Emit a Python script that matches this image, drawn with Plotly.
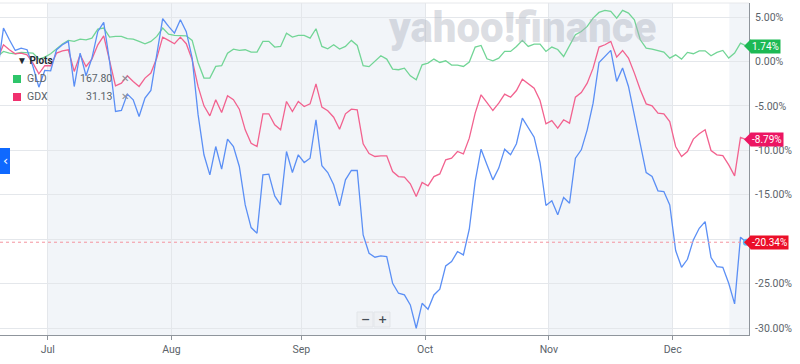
import pandas as pd
import plotly.graph_objects as go

# ---- data (percent change), trading days 2021-06-18 .. 2021-12-17 ----
holidays = ["2021-07-05", "2021-09-06", "2021-11-25"]
dates = [d for d in pd.bdate_range("2021-06-18", "2021-12-17") if d.strftime("%Y-%m-%d") not in holidays]

main_pct = [-1.0, 3.76, 2.44, 1.24, 1.50, 1.32, -0.56, -2.89, -1.01, -1.05,
            1.32, 1.88, 2.26, -2.82, 0.94, -1.61, 0.38, 3.38, 4.40, 0.0,
            -5.63, -5.51, -3.67, -4.31, -6.19, -4.13, -3.26, 0.94, 4.81, 3.95,
            3.19, 4.70, 3.35, 0.38, -5.96, -10.5, -12.76, -9.57, -12.12, -8.74,
            -9.57, -11.82, -16.14, -18.69, -19.33, -12.76, -12.68, -15.13, -16.14, -10.13,
            -12.5, -10.5, -11.37, -10.88, -6.56, -11.74, -12.5, -13.88, -16.25, -13.32,
            -12.27, -12.27, -19.52, -21.58, -22.03, -21.88, -21.95, -24.96, -26.08, -26.27,
            -27.4, -30.02, -27.21, -27.88, -26.27, -25.63, -23.0, -22.52, -21.39, -21.77,
            -18.88, -13.5, -9.87, -11.63, -13.32, -12.0, -9.87, -10.5, -9.26, -6.38,
            -7.5, -8.52, -11.37, -16.21, -15.68, -17.26, -15.31, -15.95, -10.88, -9.94,
            -7.69, -4.69, -0.11, 0.57, 1.25, -2.24, -0.74, -2.81, -6.0, -9.57,
            -12.5, -12.95, -14.56, -14.64, -16.14, -21.28, -23.16, -22.26, -20.08, -18.77,
            -18.02, -22.07, -23.08, -23.16, -24.96, -27.28, -19.77, -20.34]

gdx_pct = [0.3, 1.88, 1.32, 0.87, 0.94, 0.75, -0.18, -1.39, -0.48, -0.48,
           0.94, 1.2, 1.32, -1.12, 0.75, -0.56, 0.27, 1.88, 2.89, 0.0,
           -2.74, -2.44, -1.61, -2.25, -2.81, -1.87, -1.31, 0.38, 2.74, 2.37,
           1.99, 2.74, 2.0, 0.19, -2.81, -4.99, -6.12, -4.31, -5.74, -3.86,
           -4.31, -5.37, -7.69, -9.2, -9.57, -5.89, -5.89, -7.13, -7.69, -4.5,
           -5.63, -4.5, -5.07, -4.77, -2.52, -5.14, -5.55, -6.27, -7.62, -5.89,
           -5.37, -5.44, -9.26, -10.36, -10.69, -10.62, -10.62, -12.38, -12.95, -13.02,
           -13.77, -15.2, -13.62, -13.99, -12.95, -12.65, -11.07, -10.88, -10.13, -10.4,
           -8.63, -5.81, -3.75, -4.62, -5.52, -4.69, -3.68, -4.02, -3.27, -1.99,
           -2.52, -3.0, -4.39, -7.02, -6.65, -7.5, -6.56, -6.94, -4.02, -3.49,
           -2.44, -0.75, 1.62, 1.88, 2.26, 0.49, 1.24, 0.38, -1.31, -3.19,
           -4.77, -4.99, -5.82, -5.89, -6.76, -9.57, -10.7, -10.13, -8.74, -8.14,
           -7.69, -10.02, -10.51, -10.59, -11.64, -12.88, -8.53, -8.79]

gld_pct = [0.57, 1.13, 0.94, 0.87, 1.02, 1.02, 0.94, 0.27, 0.49, 0.87,
           1.39, 1.96, 2.37, 2.26, 2.52, 2.44, 2.63, 3.64, 3.76, 2.74,
           2.82, 2.82, 2.56, 2.52, 2.26, 1.99, 2.26, 2.82, 3.76, 3.08,
           2.93, 2.93, 2.89, 2.37, -0.11, -1.87, -1.87, -0.56, -0.48, 0.94,
           1.39, 1.24, 1.32, 1.05, 1.05, 2.26, 2.26, 1.62, 1.69, 3.19,
           2.74, 2.93, 2.93, 2.63, 3.68, 1.69, 1.43, 1.88, 1.39, 1.69,
           2.37, 1.8, -0.48, -0.58, 0.0, 0.64, 0.27, -0.86, -0.93, -0.75,
           -1.61, -2.06, -0.37, -0.18, 0.27, -0.11, 0.08, -0.41, -0.41, -0.56,
           -0.07, 1.62, 1.8, 0.3, 0.08, 0.38, 1.13, 1.13, 1.69, 2.37,
           1.69, 1.95, 1.95, 1.13, 1.62, 1.35, 0.56, 1.76, 3.0, 3.38,
           3.95, 4.88, 5.52, 5.75, 5.63, 4.88, 5.75, 5.45, 4.7, 2.44,
           1.5, 1.39, 1.24, 1.05, 0.38, 0.75, 0.27, 1.02, 0.87, 1.2,
           1.2, 0.64, 1.02, 1.24, 0.38, 0.94, 2.07, 1.74]

legend_names = ["GLD", "GDX"]
legend_prices = ["167.80", "31.13"]
y_ticks = [5, 0, -5, -10, -15, -20, -25, -30]
y_ticklabels = ["5.00%", "0.00%", "-5.00%", "-10.00%", "-15.00%", "", "-25.00%", "-30.00%"]
month_labels = ["Jul", "Aug", "Sep", "Oct", "Nov", "Dec"]
shade_months = [("2021-07-01", "2021-10-01"), ("2021-11-01", "2021-12-01"), ("2021-12-14", None)]

# ---- geometry helpers ----
W, H = 800, 364
ML, MR, MT, MB = 0, 51, 3, 29
PW, PH = W - ML - MR, H - MT - MB
def px(x):
    return (x - ML) / PW
def py(y):
    return 1 - (y - MT) / PH

idx = list(range(len(dates)))
dstr = [d.strftime("%Y-%m-%d") for d in dates]
def pos(ds):
    return dstr.index(ds) - 0.5

month_pos = [pos(m) for m in ["2021-07-01", "2021-08-02", "2021-09-01", "2021-10-01", "2021-11-01", "2021-12-01"]]

GREEN_L, PINK_L, BLUE_L = "#72d596", "#f2628f", "#5b8ff5"
GRID = "#e4e7eb"
TXT = "#5b636a"

fig = go.Figure()
fig.add_trace(go.Scatter(x=idx, y=gld_pct, mode="lines", line=dict(color=GREEN_L, width=1.3), hoverinfo="skip"))
fig.add_trace(go.Scatter(x=idx, y=gdx_pct, mode="lines", line=dict(color=PINK_L, width=1.3), hoverinfo="skip"))
fig.add_trace(go.Scatter(x=idx, y=main_pct, mode="lines", line=dict(color=BLUE_L, width=1.3), hoverinfo="skip"))
fig.add_trace(go.Scatter(x=[idx[-1]], y=[main_pct[-1]], mode="markers",
                         marker=dict(color="#56b8f5", size=7), hoverinfo="skip", cliponaxis=False))

shapes = []
x_end = 127.44
for a, b in shade_months:
    x0 = pos(a)
    x1 = pos(b) if b else x_end
    if a == "2021-12-14":
        x0 = pos(a) + 0.6
    shapes.append(dict(type="rect", xref="x", yref="paper", x0=x0, x1=x1, y0=0, y1=1,
                       fillcolor="#f2f5f9", line=dict(width=0), layer="below"))
shapes.append(dict(type="line", xref="paper", yref="paper", x0=0, x1=1, y0=1, y1=1,
                   line=dict(color="#e6e8eb", width=1)))
shapes.append(dict(type="line", xref="paper", yref="y", x0=0, x1=1, y0=main_pct[-1], y1=main_pct[-1],
                   line=dict(color="#f4939e", width=1, dash="3px,3px")))

annotations = []
unit = (6.58 + 30.78) / PH
for val, col in [(gld_pct[-1], "#1db954"), (gdx_pct[-1], "#ec1562"), (main_pct[-1], "#eb0f29")]:
    h = 7 * unit
    shapes.append(dict(type="path", xref="paper", yref="y",
                       path=f"M {px(744)},{val} L {px(751)},{val + h} L {px(751)},{val - h} Z",
                       fillcolor=col, line=dict(width=0)))
    annotations.append(dict(xref="paper", yref="y", x=px(750), y=val, xanchor="left", yanchor="middle",
                            text=f"{val:.2f}%", showarrow=False, bgcolor=col, borderpad=1,
                            font=dict(color="white", size=10, family="Roboto")))

annotations.append(dict(xref="paper", yref="paper", x=px(522), y=py(1), xanchor="center", yanchor="top",
                        text="yahoo!finance", showarrow=False,
                        font=dict(family="Roboto", size=42, weight=900, color="rgba(170,176,188,0.42)")))

annotations.append(dict(xref="paper", yref="paper", x=px(15), y=py(61), xanchor="left", yanchor="middle",
                        text="<b>▼ Plots</b>", showarrow=False, font=dict(family="Roboto", size=10, color="#232a31")))
for k, (nm, pr, col) in enumerate(zip(legend_names, legend_prices, ["#2ec56a", "#f0306e"])):
    yc = 79 + 18 * k
    shapes.append(dict(type="rect", xref="paper", yref="paper", x0=px(13), x1=px(21), y0=py(yc - 4), y1=py(yc + 4),
                       fillcolor=col, line=dict(width=0)))
    annotations.append(dict(xref="paper", yref="paper", x=px(25), y=py(yc), xanchor="left", yanchor="middle",
                            text=nm, showarrow=False, font=dict(family="Roboto", size=10.5, color=TXT)))
    annotations.append(dict(xref="paper", yref="paper", x=px(114), y=py(yc), xanchor="right", yanchor="middle",
                            text=pr, showarrow=False, font=dict(family="Roboto", size=10.5, color=TXT)))
    annotations.append(dict(xref="paper", yref="paper", x=px(125), y=py(yc), xanchor="center", yanchor="middle",
                            text="✕", showarrow=False, font=dict(family="DejaVu Sans", size=10, color="#8a9099")))

shapes.append(dict(type="rect", xref="paper", yref="paper", x0=px(0), x1=px(10), y0=py(174), y1=py(148),
                   fillcolor="#0f69ff", line=dict(width=0)))
annotations.append(dict(xref="paper", yref="paper", x=px(5), y=py(161), xanchor="center", yanchor="middle",
                        text="‹", showarrow=False, font=dict(family="DejaVu Sans", size=13, color="white")))

for x0, x1, t in [(357, 373, "−"), (374, 390, "+")]:
    shapes.append(dict(type="rect", xref="paper", yref="paper", x0=px(x0), x1=px(x1), y0=py(327), y1=py(312),
                       fillcolor="#eef0f3", line=dict(color="#e2e5e9", width=1)))
    annotations.append(dict(xref="paper", yref="paper", x=px((x0 + x1) / 2), y=py(319.5), xanchor="center",
                            yanchor="middle", text=f"<b>{t}</b>", showarrow=False,
                            font=dict(family="DejaVu Sans", size=11, color="#464e56")))

fig.update_layout(
    width=W, height=H, margin=dict(l=ML, r=MR, t=MT, b=MB),
    paper_bgcolor="white", plot_bgcolor="white", showlegend=False,
    shapes=shapes, annotations=annotations,
    font=dict(family="Roboto", size=10, color=TXT),
    xaxis=dict(range=[0.41, x_end], tickvals=month_pos, ticktext=month_labels, showgrid=True, gridcolor=GRID,
               zeroline=False, showline=True, linecolor="#8f959c", ticks="outside", ticklen=4,
               tickcolor="#8f959c", tickfont=dict(size=10.5, color=TXT)),
    yaxis=dict(range=[-30.78, 6.58], side="right", tickvals=y_ticks,
               ticktext=y_ticklabels, showgrid=True, gridcolor=GRID,
               zeroline=False, showline=True, linecolor="#8f959c", ticks="outside", ticklen=3,
               tickcolor="rgba(0,0,0,0)", tickfont=dict(size=10.5, color=TXT), automargin=False),
)

fig.write_html("out.html", config={"displayModeBar": False},
               post_script="document.body.style.margin='0';document.body.style.padding='0';")
